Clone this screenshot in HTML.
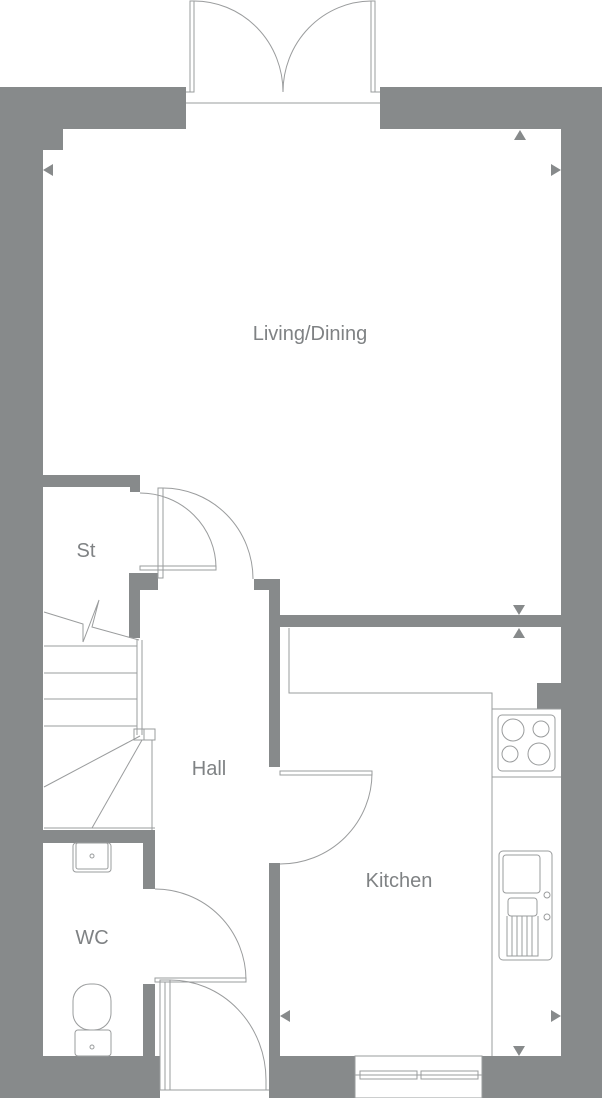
<!DOCTYPE html>
<html><head><meta charset="utf-8"><style>
html,body{margin:0;padding:0;background:#fff;width:602px;height:1098px;overflow:hidden}
svg{display:block}
text{font-family:"Liberation Sans",sans-serif;font-size:20px;fill:#7f8284}
</style></head><body>
<svg width="602" height="1098" viewBox="0 0 602 1098" xmlns="http://www.w3.org/2000/svg">
<g fill="#878a8b">
<rect x="0" y="87" width="43" height="1011"/>
<rect x="0" y="87" width="186" height="42"/>
<rect x="43" y="129" width="20" height="21"/>
<rect x="380" y="87" width="222" height="42"/>
<rect x="561" y="87" width="41" height="1011"/>
<rect x="0" y="1056" width="160" height="42"/>
<rect x="269" y="1056" width="86" height="42"/>
<rect x="482" y="1056" width="120" height="42"/>
<rect x="43" y="475" width="97" height="12"/>
<rect x="130" y="487" width="10" height="5"/>
<rect x="129" y="573" width="11" height="65"/>
<rect x="140" y="573" width="18" height="17"/>
<rect x="254" y="579" width="26" height="11"/>
<rect x="269" y="579" width="11" height="188"/>
<rect x="280" y="615" width="281" height="12"/>
<rect x="269" y="863" width="11" height="193"/>
<rect x="43" y="830" width="112" height="13"/>
<rect x="143" y="843" width="12" height="46"/>
<rect x="143" y="984" width="12" height="72"/>
<rect x="537" y="683" width="24" height="26"/>
<polygon points="43,170 53,164 53,176"/>
<polygon points="561,170 551,164 551,176"/>
<polygon points="520,130 514,140 526,140"/>
<polygon points="519,615 513,605 525,605"/>
<polygon points="519,628 513,638 525,638"/>
<polygon points="280,1016 290,1010 290,1022"/>
<polygon points="561,1016 551,1010 551,1022"/>
<polygon points="519,1056 513,1046 525,1046"/>
</g>
<g fill="none" stroke="#9a9c9d" stroke-width="1">
<rect x="190" y="1" width="4" height="91"/>
<rect x="371" y="1" width="4" height="91"/>
<line x1="186" y1="103" x2="380" y2="103"/>
<line x1="186" y1="92" x2="194" y2="92"/>
<line x1="371" y1="92" x2="380" y2="92"/>
<path d="M194 1 A89 91 0 0 1 283 92"/>
<path d="M371 1 A89 91 0 0 0 283 92"/>
<rect x="140" y="566" width="76" height="4"/>
<path d="M140 493 A76 75 0 0 1 216 568"/>
<rect x="158" y="488" width="5" height="90"/>
<path d="M163 488 A90 91 0 0 1 253 579"/>
<line x1="137" y1="640" x2="137" y2="735"/>
<line x1="142" y1="640" x2="142" y2="735"/>
<line x1="152" y1="740" x2="152" y2="830"/>
<polyline points="44,612 83,624 83,642 99,600 92,627 139,640"/>
<line x1="44" y1="646" x2="137" y2="646"/>
<line x1="44" y1="673" x2="137" y2="673"/>
<line x1="44" y1="699" x2="137" y2="699"/>
<line x1="44" y1="726" x2="137" y2="726"/>
<rect x="134" y="729" width="10" height="11"/>
<rect x="144" y="729" width="11" height="11"/>
<line x1="140" y1="736" x2="44" y2="787"/>
<line x1="142" y1="740" x2="92" y2="828"/>
<line x1="44" y1="828" x2="155" y2="828"/>
<rect x="280" y="771" width="92" height="4"/>
<path d="M372 773 A92 91 0 0 1 280 864"/>
<rect x="155" y="978" width="91" height="4"/>
<path d="M155 889 A91 91 0 0 1 246 980"/>
<rect x="160" y="980" width="10" height="110"/>
<line x1="165" y1="982" x2="165" y2="1090"/>
<path d="M170 980 A96 100 0 0 1 266 1080"/>
<line x1="160" y1="1090" x2="269" y2="1090"/>
<line x1="266" y1="1080" x2="266" y2="1090"/>
<rect x="355" y="1056" width="127" height="42"/>
<rect x="360" y="1071" width="57" height="8"/>
<rect x="421" y="1071" width="57" height="8"/>
<line x1="355" y1="1075" x2="482" y2="1075"/>
<polyline points="289,628 289,693 492,693 492,1056"/>
<line x1="492" y1="709" x2="561" y2="709"/>
<line x1="492" y1="777" x2="561" y2="777"/>
<rect x="498" y="715" width="57" height="56" rx="4"/>
<circle cx="513" cy="730" r="11"/>
<circle cx="541" cy="729" r="8"/>
<circle cx="510" cy="754" r="8"/>
<circle cx="539" cy="754" r="11"/>
<rect x="499" y="851" width="53" height="109" rx="4"/>
<rect x="503" y="855" width="37" height="38" rx="3"/>
<rect x="508" y="898" width="29" height="18" rx="3"/>
<path d="M507 916 L507 956 L538 956 L538 916"/>
<line x1="512" y1="916" x2="512" y2="956"/><line x1="517" y1="916" x2="517" y2="956"/>
<line x1="522" y1="916" x2="522" y2="956"/><line x1="527" y1="916" x2="527" y2="956"/>
<line x1="532" y1="916" x2="532" y2="956"/>
<circle cx="547" cy="895" r="3"/>
<circle cx="547" cy="917" r="3"/>
<rect x="73" y="843" width="38" height="29" rx="3"/>
<rect x="76" y="843" width="32" height="26" rx="2"/>
<circle cx="92" cy="856" r="2"/>
<rect x="73" y="984" width="38" height="46" rx="17"/>
<rect x="75" y="1030" width="36" height="26" rx="3"/>
<circle cx="92" cy="1047" r="2"/>
</g>
<text x="310" y="340" text-anchor="middle">Living/Dining</text>
<text x="86" y="557" text-anchor="middle">St</text>
<text x="209" y="775" text-anchor="middle">Hall</text>
<text x="399" y="887" text-anchor="middle">Kitchen</text>
<text x="92" y="944" text-anchor="middle">WC</text>
</svg>
</body></html>
